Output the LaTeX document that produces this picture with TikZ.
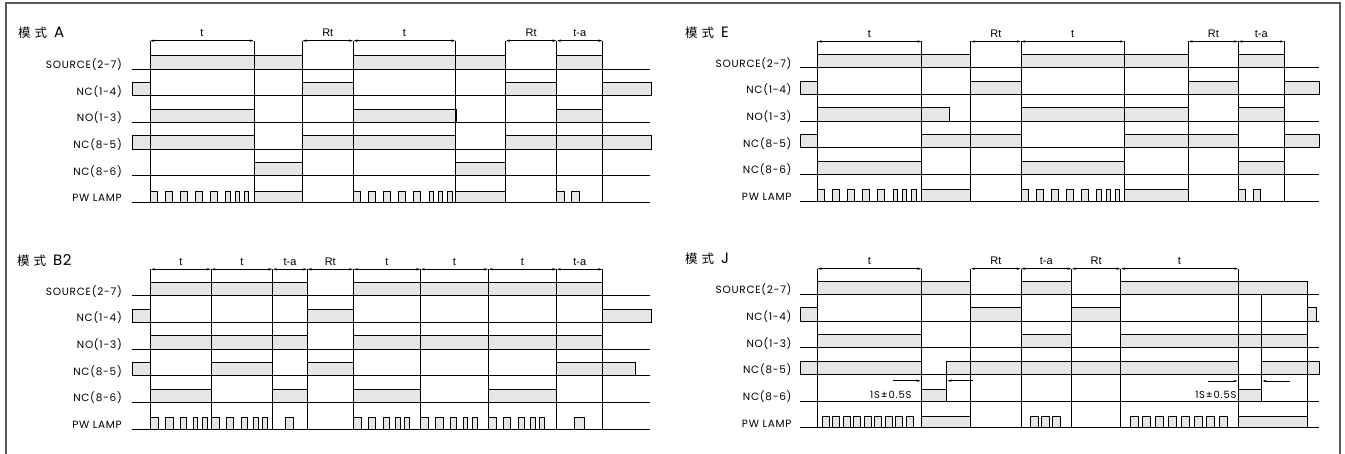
\documentclass[tikz,border=0pt]{standalone}
\usepackage{fontspec}
\setmainfont{Poppins}
\newfontfamily\cjk{Noto Sans CJK SC}
\newfontfamily\dimfont{Liberation Sans}
\usetikzlibrary{arrows.meta}
\definecolor{sigfill}{RGB}{230,230,230}
\definecolor{framegray}{RGB}{90,90,90}

% pulse groups of the lamp row: #1 start, #2 row y
\newcommand{\lampA}[2]{%
  \foreach \p/\q in {0/7.3,15/22.3,30/37.3,45/52.3,60/67.3,75.7/80,85/89.3,94.3/98.7}
    \draw[hi] ({#1+\p},#2) rectangle ({#1+\q},{#2-11.5});}
\newcommand{\lampB}[2]{%
  \foreach \p/\q in {0/8,15/22.5,30/36,42.5/47,51.5/56.5}
    \draw[hi] ({#1+\p},#2) rectangle ({#1+\q},{#2-11.5});}
\newcommand{\paneltitle}[4]{%
  \node[anchor=base west, inner sep=0pt] (#1) at (#2,#3)
    {{\cjk\fontsize{12.5}{14}\selectfont 模\hspace{4pt}式}\hspace{7pt}{\fontsize{15}{17}\selectfont\addfontfeature{LetterSpace=4}#4}};}

\begin{document}
\begin{tikzpicture}[x=1pt, y=-1pt,
  hi/.style={draw, fill=sigfill, line width=0.8pt},
  rowline/.style={line width=0.8pt},
  tmark/.style={line width=0.8pt},
  siglab/.style={anchor=base east, inner sep=0pt,
    font=\fontsize{10.5}{12}\selectfont\addfontfeature{LetterSpace=7}},
  dimlab/.style={anchor=base, inner sep=0pt, font=\dimfont\fontsize{11}{13}\selectfont},
  dim/.style={{Stealth[length=4pt,width=2.4pt]}-{Stealth[length=4pt,width=2.4pt]},
    line width=0.6pt, shorten <=0.4pt, shorten >=0.4pt},
  note/.style={-{Stealth[length=4pt,width=2.4pt]}, line width=0.6pt},
  notelab/.style={anchor=base east, inner sep=0pt,
    font=\fontsize{10}{12}\selectfont\addfontfeature{LetterSpace=8}}
]
\useasboundingbox (0,0) rectangle (1345,454);
\def\dy{26.7}

% frame
\draw[framegray, line width=1.2pt] (6,460) -- (6,3) -- (1340,3) -- (1340,460);

%% ---------- mode A ----------
\def\yo{69}
\paneltitle{tA}{18}{37.5}{A}
\foreach \n/\txt in {0/SOURCE(2-7),1/NC(1-4),2/NO(1-3),3/NC(8-5),4/NC(8-6),5/PW LAMP}
  \node[siglab] (A\n) at (122,{\yo+\n*\dy-0.5}) {\txt};
\foreach \n/\a/\b in {0/150/302.3, 0/353.3/505.7, 0/556.7/602.7,
    1/132/150, 1/302.3/353.3, 1/505.7/556.7, 1/602.7/651.7,
    2/150/254, 2/353.3/456, 2/556.7/602.7,
    3/132/254, 3/302.3/455.7, 3/505.7/651.7,
    4/254/302.3, 4/455.7/505.7,
    5/254/302.3, 5/455.7/505.7, 5/556.7/564, 5/571.7/579}
  \draw[hi] (\a,{\yo+\n*\dy}) rectangle (\b,{\yo+\n*\dy-(\n==5?11.5:13.3)});
\lampA{150}{\yo+5*\dy}
\lampA{353.3}{\yo+5*\dy}
\foreach \n in {0,...,5}
  \draw[rowline] (132,{\yo+\n*\dy}) -- (650,{\yo+\n*\dy});
\foreach \x in {150,254,302.3,353.3,455.7,505.7,556.7,602.7}
  \draw[tmark] (\x,40.7) -- (\x,{\yo+5*\dy});
\foreach \a/\b/\txt [count=\i] in {150/254/t, 302.3/353.3/Rt, 353.3/455.7/t,
    505.7/556.7/Rt, 556.7/602.7/t-a}
  {\draw[dim] (\a,40.7) -- (\b,40.7);
   \node[dimlab] (Ad\i) at ({(\a+\b)/2},36.7) {\txt};}

%% ---------- mode E ----------
\def\yo{67.7}
\paneltitle{tE}{685}{37.5}{E}
\foreach \n/\txt in {0/SOURCE(2-7),1/NC(1-4),2/NO(1-3),3/NC(8-5),4/NC(8-6),5/PW LAMP}
  \node[siglab] (E\n) at (791.7,{\yo+\n*\dy-0.5}) {\txt};
\foreach \n/\a/\b in {0/817.3/970.7, 0/1021/1188.3, 0/1238.3/1284.3,
    1/800/817.3, 1/970.7/1021, 1/1188.3/1238.3, 1/1284.3/1319,
    2/817.3/949.3, 2/1021/1188.3, 2/1238.3/1284.3,
    3/800/817.3, 3/921.7/1021, 3/1124.3/1238.3, 3/1284.3/1319,
    4/817.3/921.7, 4/1021/1124.3, 4/1238.3/1284.3,
    5/921.7/970.7, 5/1124.3/1188.3, 5/1238.3/1245.7, 5/1253.3/1260.7}
  \draw[hi] (\a,{\yo+\n*\dy}) rectangle (\b,{\yo+\n*\dy-(\n==5?11.5:13.3)});
\lampA{817.3}{\yo+5*\dy}
\lampA{1021}{\yo+5*\dy}
\foreach \n in {0,...,5}
  \draw[rowline] (800,{\yo+\n*\dy}) -- (1319,{\yo+\n*\dy});
\foreach \x in {817.3,921.7,970.7,1021,1124.3,1188.3,1238.3,1284.3}
  \draw[tmark] (\x,41.5) -- (\x,{\yo+5*\dy});
\foreach \a/\b/\txt [count=\i] in {817.3/921.7/t, 970.7/1021/Rt, 1021/1124.3/t,
    1188.3/1238.3/Rt, 1238.3/1284.3/t-a}
  {\draw[dim] (\a,41.5) -- (\b,41.5);
   \node[dimlab] (Ed\i) at ({(\a+\b)/2},37.5) {\txt};}

%% ---------- mode B2 ----------
\def\yo{295.7}
\paneltitle{tB}{17}{265.5}{B2}
\foreach \n/\txt in {0/SOURCE(2-7),1/NC(1-4),2/NO(1-3),3/NC(8-5),4/NC(8-6),5/PW LAMP}
  \node[siglab] (B\n) at (122,{\yo+\n*\dy-0.5}) {\txt};
\foreach \n/\a/\b in {0/150.7/307.3, 0/353.3/602.7,
    1/132/150.7, 1/307.3/353.3, 1/602.7/651.7,
    2/150.7/307.3, 2/353.3/602.7,
    3/132/150.7, 3/211/272.7, 3/307.3/353.3, 3/556.7/635,
    4/150.7/211, 4/272.7/307.3, 4/353.3/420.7, 4/488.3/556.7,
    5/285/293.3, 5/574.3/584.3}
  \draw[hi] (\a,{\yo+\n*\dy}) rectangle (\b,{\yo+\n*\dy-(\n==5?11.5:13.3)});
\foreach \s in {150.7,211,353.3,420.7,488.3}
  {\lampB{\s}{\yo+5*\dy}}
\foreach \n in {0,...,5}
  \draw[rowline] (132,{\yo+\n*\dy}) -- (650,{\yo+\n*\dy});
\foreach \x in {150.7,211,272.7,307.3,353.3,420.7,488.3,556.7,602.7}
  \draw[tmark] (\x,269.3) -- (\x,{\yo+5*\dy});
\foreach \a/\b/\txt [count=\i] in {150.7/211/t, 211/272.7/t, 272.7/307.3/t-a,
    307.3/353.3/Rt, 353.3/420.7/t, 420.7/488.3/t, 488.3/556.7/t, 556.7/602.7/t-a}
  {\draw[dim] (\a,269.3) -- (\b,269.3);
   \node[dimlab] (Bd\i) at ({(\a+\b)/2},265.3) {\txt};}

%% ---------- mode J ----------
\def\yo{294.3}
\paneltitle{tJ}{685}{264}{J}
\foreach \n/\txt in {0/SOURCE(2-7),1/NC(1-4),2/NO(1-3),3/NC(8-5),4/NC(8-6),5/PW LAMP}
  \node[siglab] (J\n) at (791.7,{\yo+\n*\dy-0.5}) {\txt};
\foreach \n/\a/\b in {0/817.3/970.7, 0/1021/1071.7, 0/1120.7/1307.7,
    1/800/817.3, 1/970.7/1021, 1/1071.7/1120.7, 1/1307.7/1316.7,
    2/817.3/921.7, 2/1021/1071.7, 2/1120.7/1307.7,
    3/800/921.7, 3/946/1238.3, 3/1261.7/1319,
    5/921.7/970.7, 5/1238.3/1307.7}
  \draw[hi] (\a,{\yo+\n*\dy}) rectangle (\b,{\yo+\n*\dy-(\n==5?11.5:13.3)});
\foreach \a/\b in {921.7/946, 1238.3/1261.7}
  \draw[hi] (\a,{\yo+4*\dy}) rectangle (\b,{\yo+4*\dy-11.7});
\foreach \k in {0,...,8}
  \draw[hi] ({822.3+10.5*\k},{\yo+5*\dy}) rectangle ({829.3+10.5*\k},{\yo+5*\dy-11.5});
\foreach \k in {0,...,2}
  \draw[hi] ({1030+11.3*\k},{\yo+5*\dy}) rectangle ({1038+11.3*\k},{\yo+5*\dy-11.5});
\foreach \k in {0,...,7}
  \draw[hi] ({1130+12.8*\k},{\yo+5*\dy}) rectangle ({1138+12.8*\k},{\yo+5*\dy-11.5});
\foreach \n in {0,...,5}
  \draw[rowline] (800,{\yo+\n*\dy}) -- (1319,{\yo+\n*\dy});
\foreach \x in {817.3,921.7,970.7,1021,1071.7,1120.7,1238.3}
  \draw[tmark] (\x,268.7) -- (\x,{\yo+5*\dy});
\draw[tmark] (946,{\yo+3*\dy-13.3}) -- (946,{\yo+4*\dy});
\draw[tmark] (1261.7,\yo) -- (1261.7,{\yo+4*\dy});
\draw[tmark] (1307.7,{\yo-13.3}) -- (1307.7,{\yo+5*\dy});
\foreach \a/\b/\txt [count=\i] in {817.3/921.7/t, 970.7/1021/Rt, 1021/1071.7/t-a,
    1071.7/1120.7/Rt, 1120.7/1238.3/t}
  {\draw[dim] (\a,268.7) -- (\b,268.7);
   \node[dimlab] (Jd\i) at ({(\a+\b)/2},264.7) {\txt};}
% switching gap notes
\node[notelab] (Jn1) at (911.7,399) {1S±0.5S};
\node[notelab] (Jn2) at (1236.7,399) {1S±0.5S};
\coordinate (g1a) at (893.3,380.7);
\coordinate (g1b) at (920.5,380.7);
\coordinate (g1c) at (973.3,380.7);
\coordinate (g1d) at (947.5,380.7);
\coordinate (g2a) at (1208.3,381);
\coordinate (g2b) at (1237.5,381);
\coordinate (g2c) at (1290,381);
\coordinate (g2d) at (1262.5,381);
\draw[note] (g1a) -- (g1b);
\draw[note] (g1c) -- (g1d);
\draw[note] (g2a) -- (g2b);
\draw[note] (g2c) -- (g2d);

\end{tikzpicture}
\end{document}
